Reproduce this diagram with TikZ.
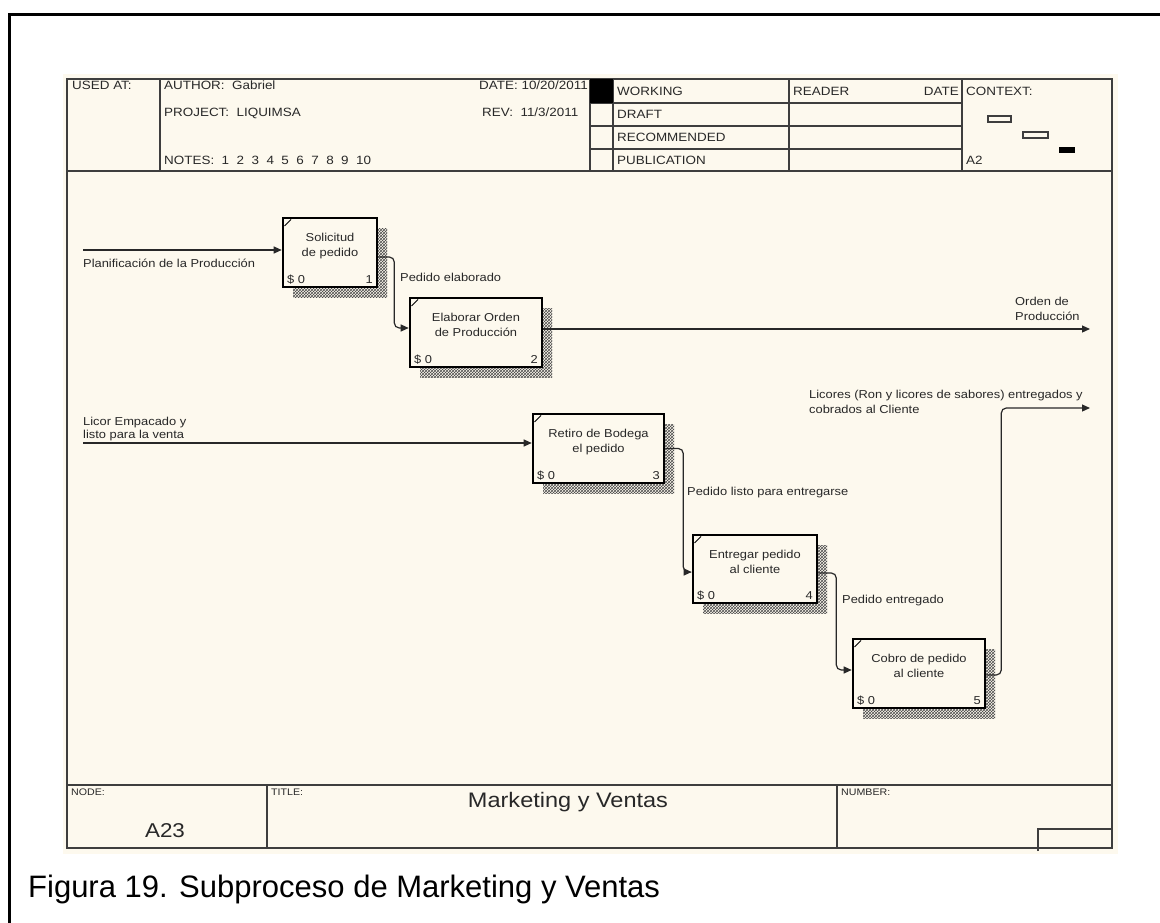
\documentclass[tikz,border=0pt]{standalone}
\usepackage{fontspec}
\setmainfont{Liberation Sans}
\newfontfamily\idef[FakeStretch=1.12]{Liberation Sans}
\usetikzlibrary{arrows.meta,patterns}
\definecolor{paper}{RGB}{253,249,238}
\definecolor{ink}{RGB}{40,40,40}
\definecolor{rule}{RGB}{62,62,62}

% activity box: name, left, top, right, bottom, line 1, line 2, number
\newcommand\actbox[8]{%
  \fill[pattern=crosshatch, pattern color=black!70] (#2+10,#3+10) rectangle (#4+10,#5+10);
  \node[actframe, minimum width={#4-#2}, minimum height={#5-#3}] (#1) at ({(#2+#4)/2},{(#3+#5)/2}) {};
  \draw[line width=1pt] (#2+1.5,#3+8) -- (#2+8,#3+1.5);
  \node[boxtxt, anchor=base] (#1-a) at ({(#2+#4)/2},#3+23.5) {#6};
  \node[boxtxt, anchor=base] (#1-b) at ({(#2+#4)/2},#3+38.5) {#7};
  \node[boxtxt, anchor=base west] (#1-c) at (#2+4,#5-4) {\$ 0};
  \node[boxtxt, anchor=base east] (#1-n) at (#4-4,#5-4) {#8};
}

\begin{document}
\begin{tikzpicture}[x=1pt,y=-1pt,
  frame/.style={draw=rule, line width=1.5pt},
  actframe/.style={draw=black, line width=2.6pt, fill=paper, inner sep=0pt},
  boxtxt/.style={font=\idef\fontsize{11.5}{14}\selectfont, text=ink, inner sep=0pt},
  lbl/.style={font=\idef\fontsize{11.5}{14}\selectfont, text=ink, inner sep=0pt, anchor=base west},
  hdr/.style={font=\idef\fontsize{12}{14}\selectfont, text=ink, inner sep=0pt, anchor=base west},
  hdrr/.style={hdr, anchor=base east},
  foot/.style={font=\idef\fontsize{9.5}{11}\selectfont, text=ink, inner sep=0pt, anchor=base west},
  flow/.style={draw=ink, line width=1.2pt, rounded corners=5pt, -{Triangle[length=8pt,width=7pt]}}]

\useasboundingbox (0,0) rectangle (1160,923);
\fill[white] (0,0) rectangle (1160,923);
% page border
\draw[line width=3pt] (1160,15) -- (9,15) -- (9,923);
% sheet
\fill[paper] (63,74) rectangle (1118,854);
\draw[frame] (67,79) rectangle (1112,848);

% header grid
\draw[frame] (67,171) -- (1112,171);
\draw[frame] (160,79) -- (160,171);
\draw[frame] (590,79) -- (590,171);
\draw[frame] (613,79) -- (613,171);
\draw[frame] (789,79) -- (789,171);
\draw[frame] (962,79) -- (962,171);
\draw[frame] (590,103) -- (962,103);
\draw[frame] (590,126) -- (962,126);
\draw[frame] (590,149) -- (962,149);
\fill[black] (590,79) rectangle (613,103);

% header texts
\node[hdr] (usedat) at (72,90) {USED AT:};
\node[hdr] (author) at (164,90) {AUTHOR:~~Gabriel};
\node[hdr] (project) at (164,116.5) {PROJECT:~~LIQUIMSA};
\node[hdr] (notes) at (164,165) {NOTES:~~1~~2~~3~~4~~5~~6~~7~~8~~9~~10};
\node[hdrr] (date) at (588,90) {DATE: 10/20/2011};
\node[hdr] (rev) at (482,116.5) {REV:~~11/3/2011};
\node[hdr] (working) at (617,96) {WORKING};
\node[hdr] (draft) at (617,118.5) {DRAFT};
\node[hdr] (recom) at (617,141.5) {RECOMMENDED};
\node[hdr] (public) at (617,165) {PUBLICATION};
\node[hdr] (reader) at (793,96) {READER};
\node[hdrr] (rdate) at (959,96) {DATE};
\node[hdr] (context) at (966,96) {CONTEXT:};
\node[hdr] (ctxnode) at (966,165) {A2};
% context map
\draw[draw=rule, line width=1.2pt] (988,116) rectangle (1011,122);
\draw[draw=rule, line width=1.2pt] (1023,132) rectangle (1048,138);
\fill[black] (1059,147) rectangle (1075,153);

% activities
\actbox{sol}{283}{218}{377}{287}{Solicitud}{de pedido}{1}
\actbox{elab}{410}{298}{542}{367}{Elaborar Orden}{de Producción}{2}
\actbox{ret}{533}{414}{664}{483}{Retiro de Bodega}{el pedido}{3}
\actbox{ent}{693}{535}{817}{603}{Entregar pedido}{al cliente}{4}
\actbox{cob}{853}{639}{985}{708}{Cobro de pedido}{al cliente}{5}

% boundary ends
\coordinate (planin) at (83,250);
\coordinate (licin) at (83,443);
\coordinate (ordout) at (1090,329);
\coordinate (licout) at (1090,408);

% arrows
\draw[flow] (planin) -- (planin -| sol.west);
\draw[flow] ([yshift=-4.5pt]sol.east) -- ++(16,0) |- ([yshift=4.5pt]elab.west);
\draw[flow] (ordout -| elab.east) -- (ordout);
\draw[flow] (licin) -- (licin -| ret.west);
\draw[flow] (ret.east) -- ++(18,0) |- ([yshift=-3pt]ent.west);
\draw[flow] ([yshift=-4pt]ent.east) -- ++(18,0) |- ([yshift=3.5pt]cob.west);
\draw[flow] ([yshift=-1.5pt]cob.east) -- ++(15,0) |- (licout);

% arrow labels
\node[lbl] (l-plan) at (83,267) {Planificación de la Producción};
\node[lbl] (l-elab) at (400,281) {Pedido elaborado};
\node[lbl] (l-ord1) at (1015,305) {Orden de};
\node[lbl] (l-ord2) at (1015,320) {Producción};
\node[lbl] (l-lic1) at (83,425) {Licor Empacado y};
\node[lbl] (l-lic2) at (83,438) {listo para la venta};
\node[lbl] (l-listo) at (687,495) {Pedido listo para entregarse};
\node[lbl] (l-entr) at (842,603) {Pedido entregado};
\node[lbl] (l-out1) at (809,398) {Licores (Ron y licores de sabores) entregados y};
\node[lbl] (l-out2) at (809,413) {cobrados al Cliente};

% footer
\draw[frame] (67,785) -- (1112,785);
\draw[frame] (267,785) -- (267,848);
\draw[frame] (837,785) -- (837,848);
\draw[frame] (1038,851) -- (1038,829) -- (1112,829);
\node[foot] (nodelbl) at (71,795) {NODE:};
\node[foot] (titlelbl) at (271,795) {TITLE:};
\node[foot] (numlbl) at (841,795) {NUMBER:};
\node[font=\idef\fontsize{20}{22}\selectfont, text=ink, inner sep=0pt, anchor=base] (nodeid) at (165,837) {A23};
\node[font=\idef\fontsize{21}{24}\selectfont, text=ink, inner sep=0pt, anchor=base] (title) at (568,807) {Marketing y Ventas};

% caption
\node[font=\fontsize{31}{36}\selectfont, inner sep=0pt, anchor=base west] (caption) at (28,897) {Figura 19. Subproceso de Marketing y Ventas};
\end{tikzpicture}
\end{document}
